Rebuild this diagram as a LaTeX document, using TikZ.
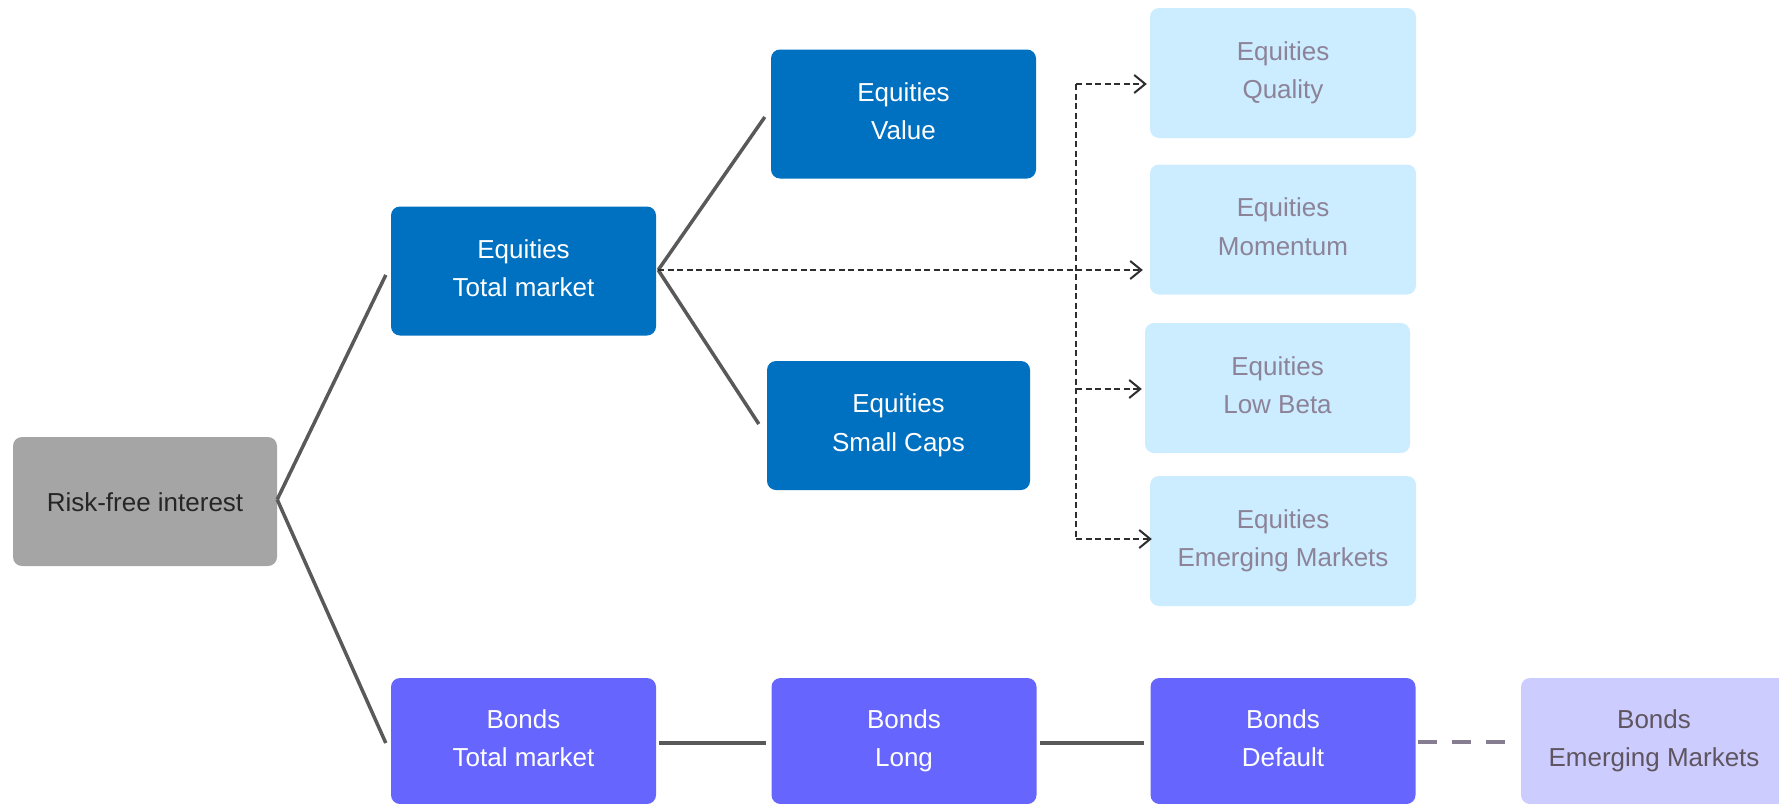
\documentclass[tikz,border=0pt]{standalone}
\usepackage{fontspec}
\setmainfont{Liberation Sans}
\usetikzlibrary{arrows.meta}

\definecolor{rfgray}{HTML}{A5A5A5}
\definecolor{rftext}{HTML}{262626}
\definecolor{eqdark}{HTML}{0070C0}
\definecolor{eqlight}{HTML}{CCECFF}
\definecolor{eqlighttext}{HTML}{8D8398}
\definecolor{bdark}{HTML}{6666FF}
\definecolor{blight}{HTML}{CCCCFF}
\definecolor{blighttext}{HTML}{5F5560}
\definecolor{linkgray}{HTML}{595959}
\definecolor{dashgray}{HTML}{2E2E2E}
\definecolor{emdash}{HTML}{877D91}

% fixed first-line height and last-line depth so labels sit alike
\newcommand{\labeltop}{\rule{0pt}{25pt}}
\newcommand{\labelbottom}{\rule[-6pt]{0pt}{6pt}}

\begin{document}
\begin{tikzpicture}[x=1pt,y=-1pt,
  box/.style={rectangle, rounded corners=9pt, inner sep=0pt, align=center,
    minimum width=265pt, minimum height=129pt,
    font=\fontsize{26}{38.5}\selectfont,
    execute at begin node=\labeltop, execute at end node=\labelbottom},
  rfbox/.style={box, fill=rfgray, text=rftext, minimum width=264pt},
  eqbox/.style={box, fill=eqdark, text=white},
  eqlbox/.style={box, fill=eqlight, text=eqlighttext, minimum width=266pt, minimum height=130pt},
  bbox/.style={box, fill=bdark, text=white, minimum height=126pt},
  blbox/.style={box, fill=blight, text=blighttext, minimum height=126pt},
  tree/.style={draw=linkgray, line width=3.5pt},
  chain/.style={draw=linkgray, line width=4pt},
  option/.style={draw=dashgray, line width=1.7pt, dash pattern=on 6pt off 3.5pt,
    -{Straight Barb[length=11pt,width=18pt,line width=2pt]}},
  spine/.style={draw=dashgray, line width=1.7pt, dash pattern=on 6pt off 3.5pt},
  emlink/.style={draw=emdash, line width=4.5pt, dash pattern=on 19pt off 15pt}]

\clip (0,0) rectangle (1779,803);

% root
\node[rfbox] (rf) at (145,501.5) {Risk-free interest};

% equities branch
\node[eqbox] (etm) at (523.5,271) {Equities\\Total market};
\node[eqbox] (eval) at (903.5,114) {Equities\\Value};
\node[eqbox, minimum width=263pt] (esc) at (898.5,425.5) {Equities\\Small Caps};

\node[eqlbox] (qual) at (1283,73) {Equities\\Quality};
\node[eqlbox] (mom) at (1283,229.5) {Equities\\Momentum};
\node[eqlbox, minimum width=265pt] (lowb) at (1277.5,388) {Equities\\Low Beta};
\node[eqlbox] (eem) at (1283,541) {Equities\\Emerging Markets};

% bonds branch
\node[bbox] (btm) at (523.5,741) {Bonds\\Total market};
\node[bbox] (blong) at (904,741) {Bonds\\Long};
\node[bbox] (bdef) at (1283,741) {Bonds\\Default};
\node[blbox, minimum width=266pt] (bem) at (1654,741) {Bonds\\Emerging Markets};

% tree links (shifts are in page coordinates, y up)
\draw[tree] ([yshift=2pt]rf.east) -- ([xshift=-5pt,yshift=-4pt]etm.west);
\draw[tree] ([yshift=2pt]rf.east) -- ([xshift=-5pt,yshift=-2pt]btm.west);
\draw[tree] ([xshift=2pt,yshift=1pt]etm.east) -- ([xshift=-6pt,yshift=-3pt]eval.west);
\draw[tree] ([xshift=2pt,yshift=1pt]etm.east) -- ([xshift=-8pt,yshift=1.5pt]esc.west);

% factor options
\coordinate (jt) at (1076,84);
\coordinate (jb) at (1076,539);
\coordinate (jm) at (1076,389);
\draw[spine] (jt) -- (jb);
\draw[option] ([xshift=2pt,yshift=1pt]etm.east) -- ([xshift=-7pt,yshift=1pt]mom.west |- etm.east);
\draw[option] (jt) -- ([xshift=-3pt]qual.west |- jt);
\draw[option] (jm) -- ([xshift=-3pt]lowb.west |- jm);
\draw[option] (jb) -- ([xshift=2pt]eem.west |- jb);

% bond chain
\draw[chain] ([xshift=3pt,yshift=-2pt]btm.east) -- ([xshift=-5pt,yshift=-2pt]blong.west);
\draw[chain] ([xshift=3pt,yshift=-2pt]blong.east) -- ([xshift=-6pt,yshift=-2pt]bdef.west);
\draw[emlink] ([xshift=2pt,yshift=-1pt]bdef.east) -- ([xshift=-14pt,yshift=-1pt]bem.west);

\end{tikzpicture}
\end{document}
